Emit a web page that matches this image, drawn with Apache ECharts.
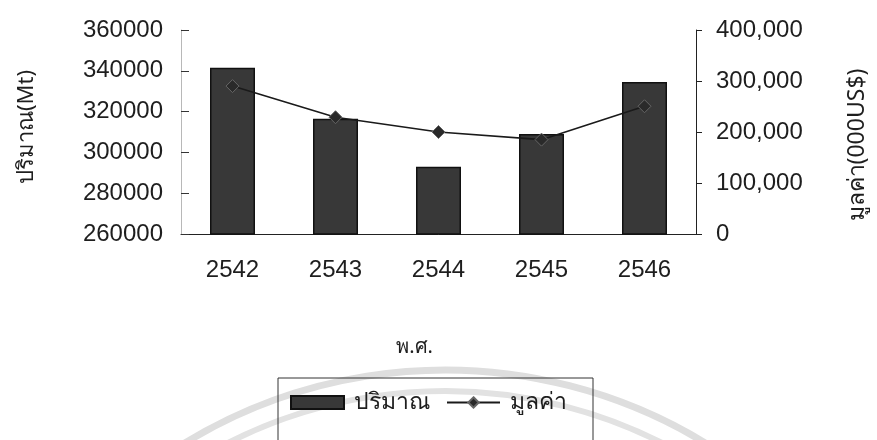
<!DOCTYPE html>
<html>
<head>
<meta charset="utf-8">
<script src="https://cdn.jsdelivr.net/npm/echarts@6/dist/echarts.min.js"></script>
<style>
  html, body { margin: 0; padding: 0; background: #fff; }
  #chart { width: 877px; height: 440px; }
</style>
</head>
<body>
<div id="chart"></div>
<script>
// Years (Buddhist era)
const years = ['2542', '2543', '2544', '2545', '2546'];
// Quantity, Mt (left axis)
const quantity = [341500, 316500, 293000, 309000, 334500];
// Value, thousand US$ (right axis)
const value = [290000, 229000, 200000, 185000, 250500];

const seriesNames = ['ปริมาณ', 'มูลค่า'];
const axisNames = { left: 'ปริมาณ(Mt)', right: 'มูลค่า(000US$)', bottom: 'พ.ศ.' };

const FONT = '"Liberation Sans", Arial, sans-serif';
const THAI = '"Noto Sans", "Liberation Sans", sans-serif';
const INK = '#1e1e1e';

const chart = echarts.init(document.getElementById('chart'));

chart.setOption({
  backgroundColor: '#ffffff',
  animation: false,
  grid: { left: 181, right: 180, top: 30, bottom: 206 },
  // faint seal arcs behind the legend
  graphic: [
    {
      type: 'arc', z: -10, silent: true,
      shape: { cx: 445, cy: 870, r: 500, startAngle: Math.PI * 1.2, endAngle: Math.PI * 1.8 },
      style: { stroke: '#dedede', lineWidth: 7, fill: null }
    },
    {
      type: 'arc', z: -10, silent: true,
      shape: { cx: 445, cy: 870, r: 479, startAngle: Math.PI * 1.2, endAngle: Math.PI * 1.8 },
      style: { stroke: '#e2e2e2', lineWidth: 6, fill: null }
    }
  ],
  legend: {
    data: [
      { name: seriesNames[0], icon: 'rect' },
      { name: seriesNames[1] }
    ],
    left: 278,
    top: 378,
    padding: [13, 26, 40, 12],
    borderColor: '#333',
    borderWidth: 1,
    backgroundColor: 'transparent',
    itemWidth: 53,
    itemHeight: 13,
    itemGap: 16,
    textStyle: { fontFamily: THAI, fontSize: 23, color: INK, padding: [0, 0, 0, 5] }
  },
  xAxis: {
    type: 'category',
    data: years,
    name: axisNames.bottom,
    nameLocation: 'middle',
    nameGap: 103,
    nameTextStyle: { fontFamily: THAI, fontSize: 20, color: INK, padding: [0, 48, 0, 0] },
    axisLine: { lineStyle: { color: '#222', width: 1 } },
    axisTick: { alignWithLabel: false, length: 6, lineStyle: { color: '#222' } },
    axisLabel: { fontFamily: FONT, fontSize: 24, color: INK, margin: 24 },
    splitLine: { show: false }
  },
  yAxis: [
    {
      type: 'value',
      min: 260000,
      max: 360000,
      interval: 20000,
      position: 'left',
      name: axisNames.left,
      nameLocation: 'middle',
      nameRotate: 90,
      nameGap: 143,
      nameTextStyle: { fontFamily: THAI, fontSize: 22, color: INK, padding: [0, 0, 0, 10] },
      axisLine: { show: true, lineStyle: { color: '#b8b8b8', width: 1 } },
      axisTick: { show: true, inside: true, length: 8, lineStyle: { color: '#333' } },
      axisLabel: { fontFamily: FONT, fontSize: 24, color: INK, margin: 18, formatter: v => String(v) },
      splitLine: { show: false }
    },
    {
      type: 'value',
      min: 0,
      max: 400000,
      interval: 100000,
      position: 'right',
      name: axisNames.right,
      nameLocation: 'middle',
      nameRotate: 90,
      nameGap: 150,
      nameTextStyle: { fontFamily: THAI, fontSize: 23, color: INK, padding: [0, 26, 0, 0] },
      axisLine: { show: true, lineStyle: { color: '#222', width: 1 } },
      axisTick: { show: true, length: 6, lineStyle: { color: '#222' } },
      axisLabel: {
        fontFamily: FONT, fontSize: 24, color: INK, margin: 20,
        formatter: v => v.toLocaleString('en-US')
      },
      splitLine: { show: false }
    }
  ],
  series: [
    {
      name: seriesNames[0],
      type: 'bar',
      yAxisIndex: 0,
      data: quantity,
      barWidth: 45,
      itemStyle: { color: '#383838', borderColor: '#111', borderWidth: 1.5 }
    },
    {
      name: seriesNames[1],
      type: 'line',
      yAxisIndex: 1,
      data: value,
      symbol: 'diamond',
      symbolSize: 13,
      lineStyle: { color: '#1a1a1a', width: 1.6 },
      itemStyle: { color: '#2a2a2a', borderColor: '#666', borderWidth: 1 }
    }
  ]
});
</script>
</body>
</html>
